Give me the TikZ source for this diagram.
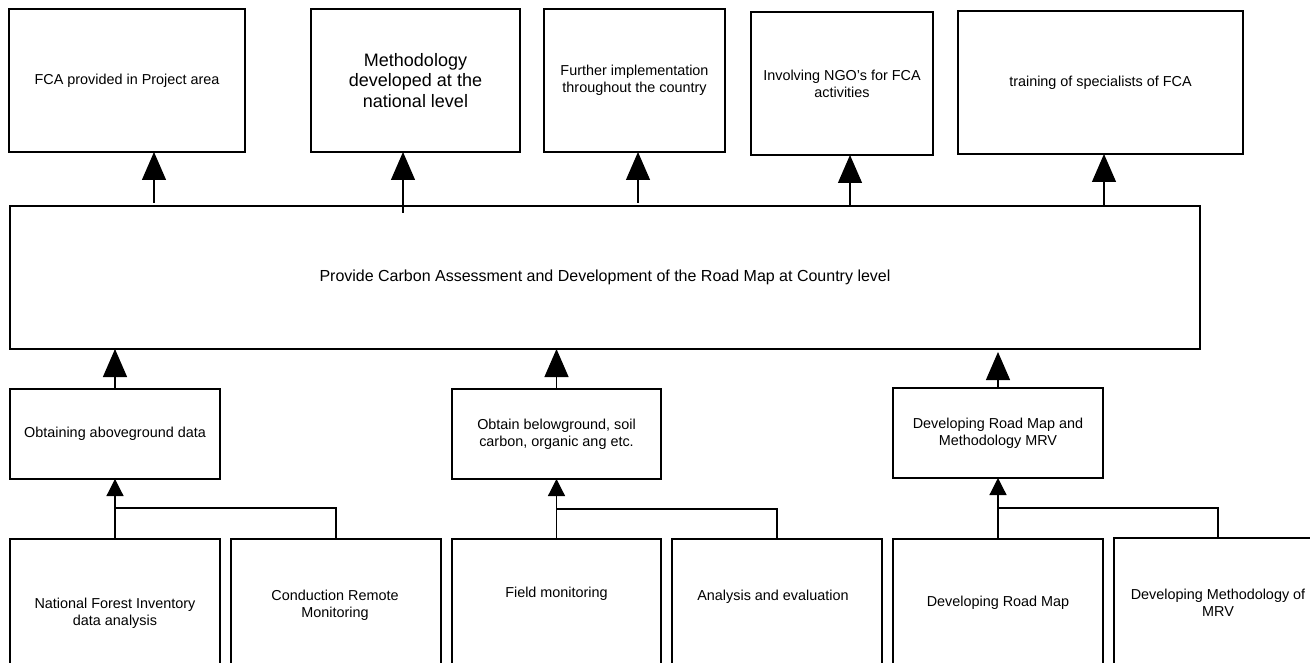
\documentclass[tikz,border=0pt]{standalone}
\usepackage{fontspec}
\setmainfont{Liberation Sans}
\usetikzlibrary{arrows.meta,calc}
\begin{document}
\begin{tikzpicture}[x=1pt,y=-1pt,
  box/.style={draw, line width=1.7pt, inner sep=0pt, outer sep=0pt,
    anchor=north west, align=center, font=\fontsize{14.4}{17}\selectfont},
  lbl/.style={align=center, inner sep=0pt, font=\fontsize{14.4}{17}\selectfont},
  link/.style={line width=1.2pt},
  bigtip/.style={link, -{Triangle[width=24pt,length=28pt]}},
  smalltip/.style={link, -{Triangle[width=17pt,length=17pt]}},
]
\path[use as bounding box, clip] (0,0) rectangle (1310,663);

% results row
\node[box, minimum width=236pt, minimum height=143pt] (t1) at (9,9)
  {FCA provided in Project area};
\node[box, minimum width=209pt, minimum height=143pt,
  font=\fontsize{18}{20.5}\selectfont] (t2) at (311,9)
  {Methodology\\developed at the\\national level};
\node[box, minimum width=181pt, minimum height=143pt] (t3) at (544,9)
  {Further implementation\\throughout the country};
\node[box, minimum width=182pt, minimum height=143pt] (t4) at (751,12)
  {Involving NGO’s for FCA\\activities};
\node[box, minimum width=285pt, minimum height=143pt] (t5) at (958,11)
  {training of specialists of FCA};

% central activity
\node[box, minimum width=1190pt, minimum height=143pt,
  font=\fontsize{16}{19}\selectfont] (big) at (10,206)
  {Provide Carbon Assessment and Development of the Road Map at Country level};

% components
\node[box, minimum width=210pt, minimum height=90pt] (a) at (10,389)
  {Obtaining aboveground data};
\node[box, minimum width=209pt, minimum height=90pt] (b) at (452,389)
  {Obtain belowground, soil\\carbon, organic ang etc.};
\node[box, minimum width=210pt, minimum height=90pt] (c) at (893,388)
  {Developing Road Map and\\Methodology MRV};

% tasks
\node[box, minimum width=210pt, minimum height=150pt] (d) at (10,539) {};
\node[box, minimum width=210pt, minimum height=150pt] (e) at (231,539) {};
\node[box, minimum width=209pt, minimum height=150pt] (f) at (452,539) {};
\node[box, minimum width=210pt, minimum height=150pt] (g) at (672,539) {};
\node[box, minimum width=210pt, minimum height=150pt] (h) at (893,539) {};
\node[box, minimum width=208pt, minimum height=150pt] (i) at (1114,538) {};

\node[lbl] (dt) at ($(d.north)+(0,74)$) {National Forest Inventory\\data analysis};
\node[lbl] (et) at ($(e.north)+(-1,66)$) {Conduction Remote\\Monitoring};
\node[lbl] (ft) at ($(f.north)+(0,55)$) {Field monitoring};
\node[lbl] (gt) at ($(g.north)+(-4,58)$) {Analysis and evaluation};
\node[lbl] (ht) at ($(h.north)+(0,64)$) {Developing Road Map};
\node[lbl] (it) at ($(i.north)+(0,64.5)$) {Developing Methodology of\\MRV};

% arrows from the central activity to the results
\coordinate (u1) at (154,203);
\coordinate (u2) at (403,213);
\coordinate (u3) at (638,203);
\coordinate (u4) at (850,206);
\coordinate (u5) at (1104,205);
\draw[bigtip] (u1) -- (u1 |- t1.south);
\draw[bigtip] (u2) -- (u2 |- t2.south);
\draw[bigtip] (u3) -- (u3 |- t3.south);
\draw[bigtip] (u4) -- (u4 |- t4.south);
\draw[bigtip] (u5) -- (u5 |- t5.south);

% arrows from the components to the central activity
\draw[bigtip] (a.north) -- (a.north |- big.south);
\draw[bigtip] (b.north) -- (b.north |- big.south);
\draw[bigtip, shorten >=3pt] (c.north) -- (c.north |- big.south);

% tasks feeding each component
\coordinate (j1) at ($(a.south)+(0,29)$);
\coordinate (j2) at ($(b.south)+(0,30)$);
\coordinate (j3) at ($(c.south)+(0,30)$);
\draw[smalltip] (d.north) -- (a.south);
\draw[link] (e.north) |- (j1);
\draw[smalltip] (f.north) -- (b.south);
\draw[link] (g.north) |- (j2);
\draw[smalltip] (h.north) -- (c.south);
\draw[link] (i.north) |- (j3);
\end{tikzpicture}
\end{document}
